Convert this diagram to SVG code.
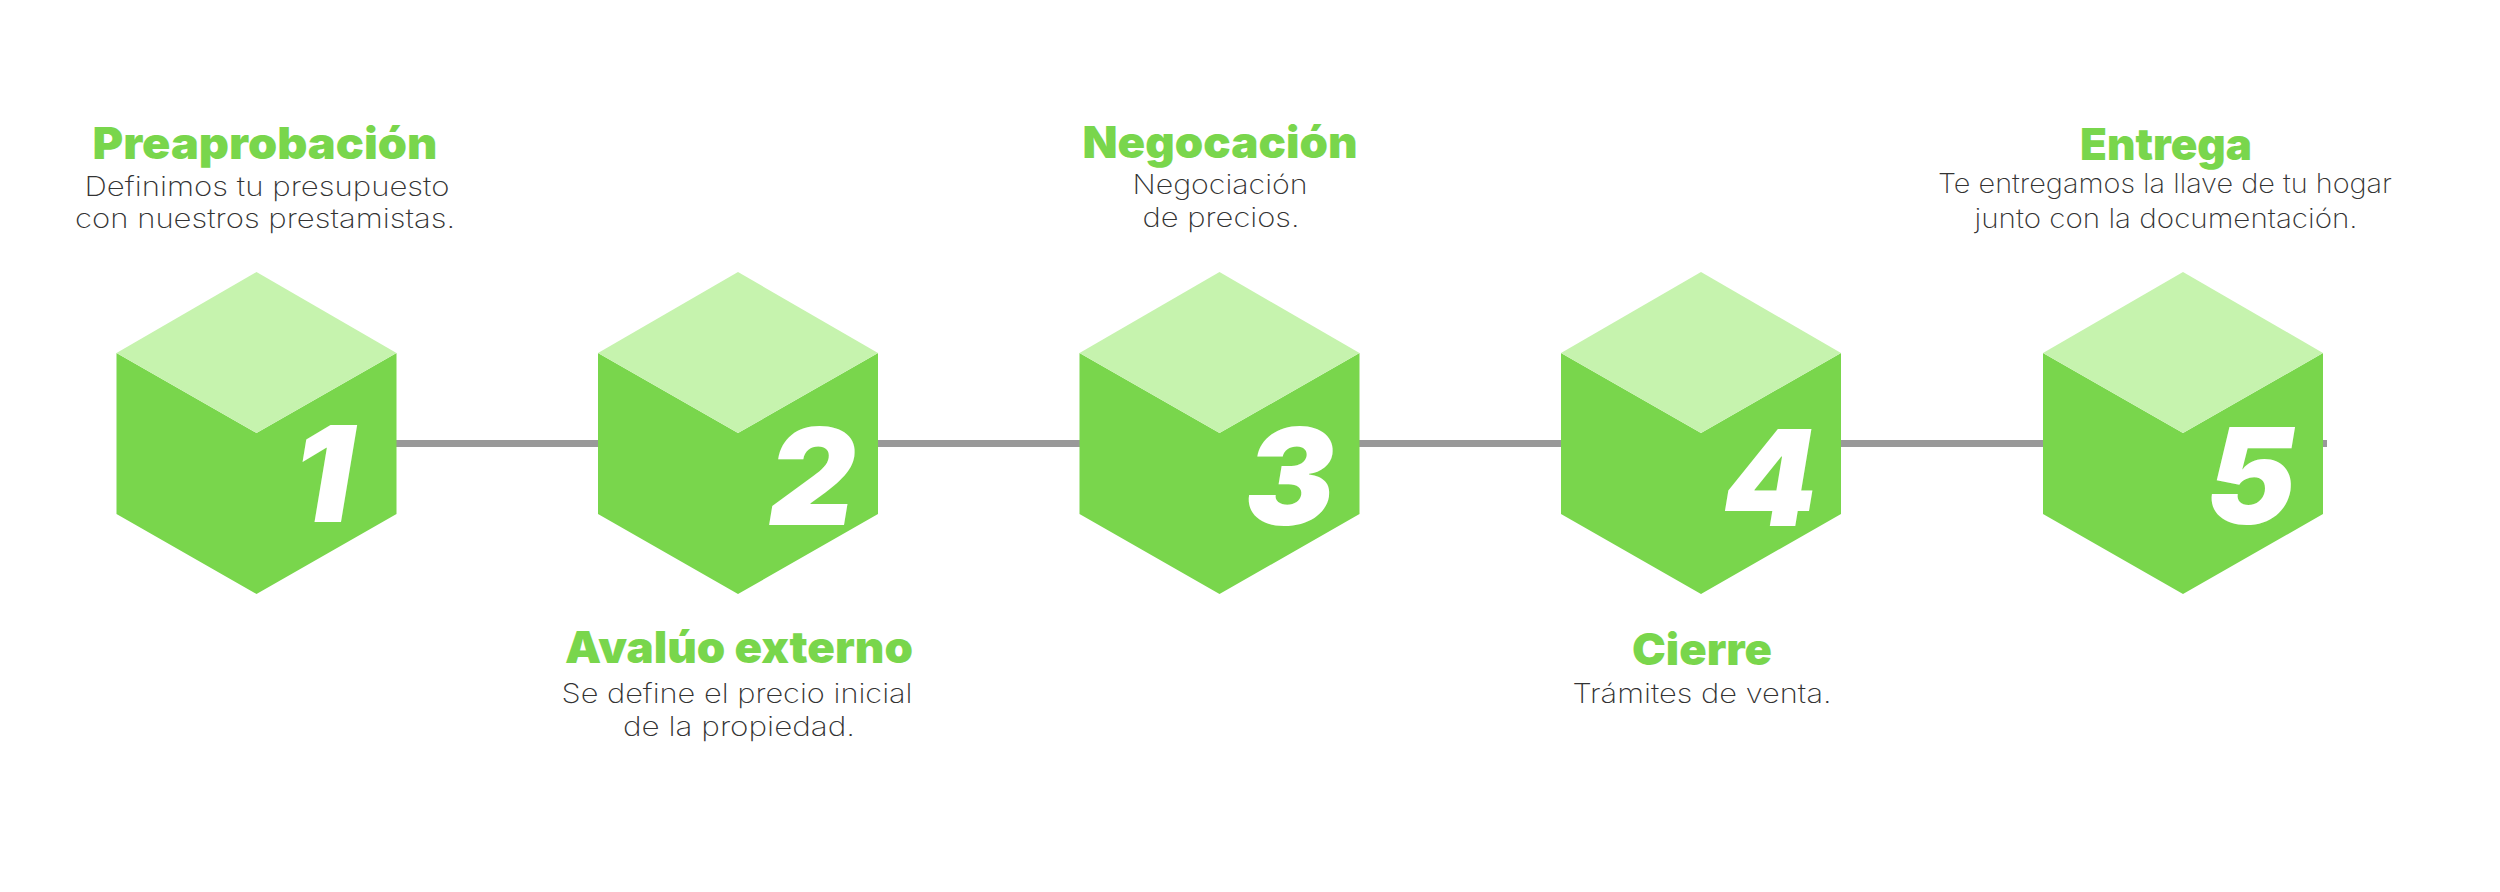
<svg xmlns="http://www.w3.org/2000/svg" width="2500" height="892" viewBox="0 0 2500 892">
<defs>
<style>
.front{fill:#79d64c}
.top{fill:#c6f3ae}
.num{fill:#ffffff;font-family:Inter,Lato,"Liberation Sans",sans-serif;font-weight:900;font-style:italic;font-size:134px;text-anchor:middle}
.title{fill:#79d64c;font-family:Inter,Lato,"Liberation Sans",sans-serif;font-weight:900;font-size:44px;text-anchor:middle}
.sub{fill:#333333;font-family:Inter,Lato,"Liberation Sans",sans-serif;font-weight:200;font-size:27px;text-anchor:middle}
.conn{stroke:#999999;stroke-width:7;fill:none}
</style>
<g id="cube">
<polygon class="front" points="-140,353 0,433 140,353 140,514 0,594 -140,514"/>
<polygon class="top" points="0,272 140,353 0,433 -140,353"/>
</g>
</defs>
<rect width="2500" height="892" fill="#ffffff"/>
<g id="connectors">
<line class="conn" x1="256.5" y1="443.5" x2="738" y2="443.5"/>
<line class="conn" x1="738" y1="443.5" x2="1219.5" y2="443.5"/>
<line class="conn" x1="1219.5" y1="443.5" x2="1701" y2="443.5"/>
<line class="conn" x1="1701" y1="443.5" x2="2183" y2="443.5"/>
<line class="conn" x1="2183" y1="443.5" x2="2327" y2="443.5"/>
</g>
<g id="step1">
<use href="#cube" x="256.5"/>
<text class="num" x="323" y="522">1</text>
<text class="title" x="265" y="159" textLength="345" lengthAdjust="spacingAndGlyphs">Preaprobación</text>
<text class="sub" x="267" y="196" textLength="365" lengthAdjust="spacingAndGlyphs">Definimos tu presupuesto</text>
<text class="sub" x="265" y="228" textLength="380" lengthAdjust="spacingAndGlyphs">con nuestros prestamistas.</text>
</g>
<g id="step2">
<use href="#cube" x="738"/>
<text class="num" x="812" y="525">2</text>
<text class="title" x="739" y="663" textLength="348" lengthAdjust="spacingAndGlyphs">Avalúo externo</text>
<text class="sub" x="737" y="703" textLength="351" lengthAdjust="spacingAndGlyphs">Se define el precio inicial</text>
<text class="sub" x="739" y="736" textLength="232" lengthAdjust="spacingAndGlyphs">de la propiedad.</text>
</g>
<g id="step3">
<use href="#cube" x="1219.5"/>
<text class="num" x="1290" y="525">3</text>
<text class="title" x="1220" y="158" textLength="275" lengthAdjust="spacingAndGlyphs">Negocación</text>
<text class="sub" x="1220" y="194" textLength="175" lengthAdjust="spacingAndGlyphs">Negociación</text>
<text class="sub" x="1221" y="227" textLength="157" lengthAdjust="spacingAndGlyphs">de precios.</text>
</g>
<g id="step4">
<use href="#cube" x="1701"/>
<text class="num" x="1770" y="526">4</text>
<text class="title" x="1702" y="665" textLength="140" lengthAdjust="spacingAndGlyphs">Cierre</text>
<text class="sub" x="1702" y="703" textLength="259" lengthAdjust="spacingAndGlyphs">Trámites de venta.</text>
</g>
<g id="step5">
<use href="#cube" x="2183"/>
<text class="num" x="2251" y="524">5</text>
<text class="title" x="2166" y="160" textLength="172" lengthAdjust="spacingAndGlyphs">Entrega</text>
<text class="sub" x="2165" y="193" textLength="454" lengthAdjust="spacingAndGlyphs">Te entregamos la llave de tu hogar</text>
<text class="sub" x="2166" y="228" textLength="383" lengthAdjust="spacingAndGlyphs">junto con la documentación.</text>
</g>
</svg>
